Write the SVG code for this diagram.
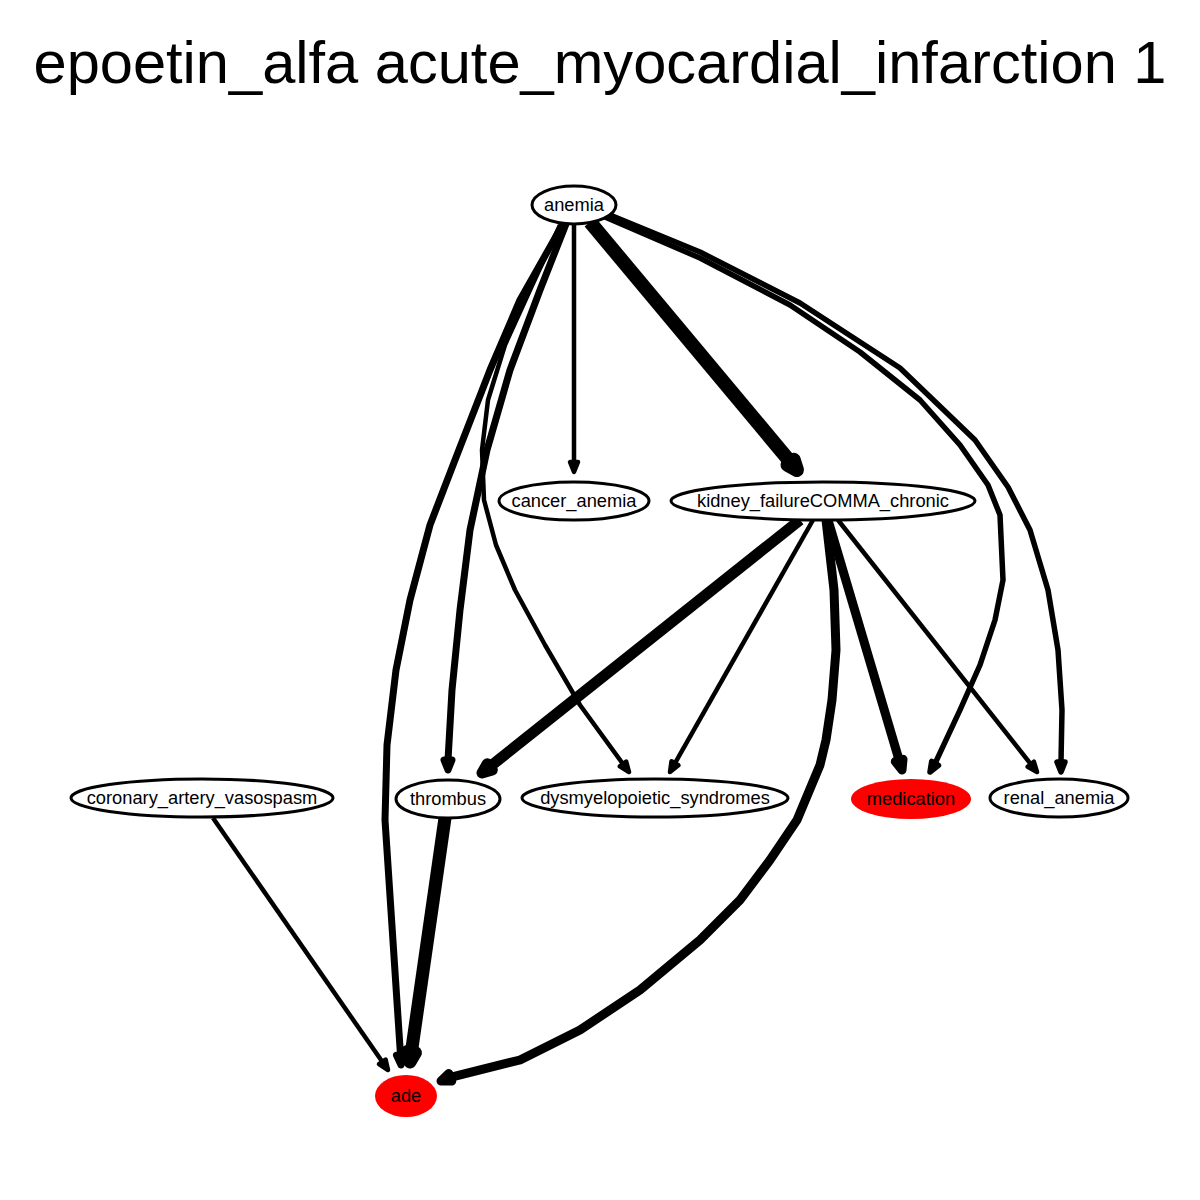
<svg xmlns="http://www.w3.org/2000/svg" width="1200" height="1200" viewBox="0 0 1200 1200">
<style>
.e{fill:none;stroke:#000;stroke-linejoin:round;stroke-linecap:butt}
.h{fill:#000;stroke:#000;stroke-linejoin:round}
.n{fill:#fff;stroke:#000;stroke-width:3}
.r{fill:#f00;stroke:none}
.t{font-family:"Liberation Sans",Arial,sans-serif;font-size:18.3px;text-anchor:middle;fill:#000}
</style>
<rect width="1200" height="1200" fill="#fff"/>
<text x="600" y="83" font-family="Liberation Sans,Arial,sans-serif" font-size="59.6" text-anchor="middle">epoetin_alfa acute_myocardial_infarction 1</text>
<g id="edges">
<polyline class="e" stroke-width="7" points="563,224 520,300 490,370 455,460 430,525 410,600 396,670 387,745 385,820 400.5,1055"/>
<polygon class="h" stroke-width="7" points="401,1065 396.5,1055.2 404.5,1054.8"/>
<polyline class="e" stroke-width="7" points="566,224 540,290 510,370 487,450 470,530 460,610 452,690 448,760"/>
<polygon class="h" stroke-width="7" points="448,770 444,760 452,760"/>
<polyline class="e" stroke-width="4.5" points="560,225 530,290 505,345 488,400 482,450 484,500 496,545 515,590 545,645 580,705 623,764"/>
<polygon class="h" stroke-width="4.5" points="629,772 619.8,766.4 626.2,761.6"/>
<line class="e" stroke-width="4.5" x1="574" y1="224" x2="574" y2="462"/>
<polygon class="h" stroke-width="4.5" points="574,472 570,462 578,462"/>
<line class="e" stroke-width="14" x1="590" y1="222" x2="790.6" y2="462.3"/>
<polygon class="h" stroke-width="14" points="797,470 787.5,464.9 793.7,459.7"/>
<polyline class="e" stroke-width="5.5" points="605,217 700,258 790,305 860,352 920,400 960,445 988,485 1000,515 1003,580 995,620 980,665 960,710 935.1,763.4"/>
<polygon class="h" stroke-width="5.5" points="930,772 938.5,765.4 931.7,761.4"/>
<polyline class="e" stroke-width="5.5" points="610,215 700,252 800,303 900,368 975,440 1008,487 1030,530 1048,590 1058,650 1062,710 1061,762"/>
<polygon class="h" stroke-width="5.5" points="1061,772 1057,762 1065,762"/>
<line class="e" stroke-width="11" x1="800" y1="520" x2="489.8" y2="766.8"/>
<polygon class="h" stroke-width="11" points="482,773 487.3,763.7 492.3,769.9"/>
<line class="e" stroke-width="4.5" x1="813" y1="520" x2="674.9" y2="763.3"/>
<polygon class="h" stroke-width="4.5" points="670,772 678.4,765.3 671.5,761.3"/>
<polyline class="e" stroke-width="9" points="826,520 834,590 836,650 832,700 826,740 820,765 797,820 770,860 740,900 700,940 640,990 580,1030 520,1060 450.3,1077.3"/>
<polygon class="h" stroke-width="9" points="441,1081 448.8,1073.6 451.8,1081"/>
<line class="e" stroke-width="9" x1="828" y1="520" x2="899.2" y2="760.4"/>
<polygon class="h" stroke-width="9" points="902,770 895.3,761.5 903,759.3"/>
<line class="e" stroke-width="4.5" x1="838" y1="520" x2="1030.8" y2="764.2"/>
<polygon class="h" stroke-width="4.5" points="1037,772 1027.7,766.7 1033.9,761.7"/>
<line class="e" stroke-width="13" x1="445" y1="818" x2="411.4" y2="1052.1"/>
<polygon class="h" stroke-width="13" points="410,1062 415.4,1052.7 407.4,1051.5"/>
<line class="e" stroke-width="4.5" x1="213" y1="818" x2="382.3" y2="1061.8"/>
<polygon class="h" stroke-width="4.5" points="388,1070 379,1064.1 385.6,1059.5"/>
</g>
<g id="anemia"><ellipse class="n" cx="574" cy="205" rx="42" ry="19"/><text class="t" x="574" y="211">anemia</text></g>
<g id="cancer_anemia"><ellipse class="n" cx="574" cy="501" rx="75" ry="19"/><text class="t" x="574" y="507">cancer_anemia</text></g>
<g id="kidney_failureCOMMA_chronic"><ellipse class="n" cx="823" cy="501" rx="152" ry="19"/><text class="t" x="823" y="507">kidney_failureCOMMA_chronic</text></g>
<g id="coronary_artery_vasospasm"><ellipse class="n" cx="202" cy="798" rx="131" ry="19"/><text class="t" x="202" y="804">coronary_artery_vasospasm</text></g>
<g id="thrombus"><ellipse class="n" cx="448" cy="799" rx="52" ry="19"/><text class="t" x="448" y="805">thrombus</text></g>
<g id="dysmyelopoietic_syndromes"><ellipse class="n" cx="655" cy="798" rx="133" ry="19"/><text class="t" x="655" y="804">dysmyelopoietic_syndromes</text></g>
<g id="medication"><ellipse class="r" cx="911" cy="799" rx="60" ry="20"/><text class="t" x="911" y="805">medication</text></g>
<g id="renal_anemia"><ellipse class="n" cx="1059" cy="798" rx="69" ry="19"/><text class="t" x="1059" y="804">renal_anemia</text></g>
<g id="ade"><ellipse class="r" cx="406" cy="1096" rx="31" ry="21"/><text class="t" x="406" y="1102">ade</text></g>
</svg>
